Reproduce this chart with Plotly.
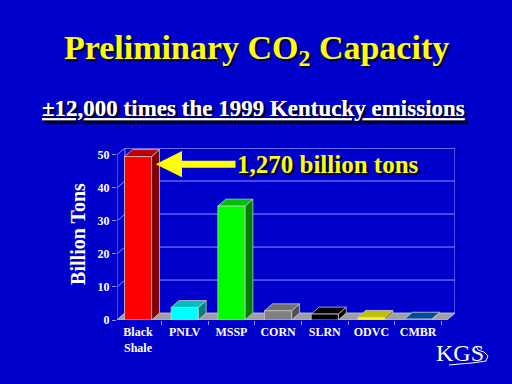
import plotly.graph_objects as go

# ---- data ----
categories = ["Black<br>Shale", "PNLV", "MSSP", "CORN", "SLRN", "ODVC", "CMBR"]
values = [49.5, 3.8, 34.5, 2.8, 1.8, 0.8, 0.25]
front_colors = ["#FF0000", "#00FFFF", "#00FF00", "#808080", "#000000", "#FFFF00", "#0050A0"]
side_colors = ["#800000", "#008080", "#008000", "#505050", "#000000", "#808000", "#003366"]
top_colors = ["#C00000", "#00C0C0", "#00C000", "#707070", "#000000", "#C0C000", "#004C99"]
y_ticks = [0, 10, 20, 30, 40, 50]

BG = "#0000CC"
GRID = "#9090FF"
EDGE = "#C8C8C8"
FONT = "Liberation Serif"

n = len(categories)
xs = list(range(n))
x0, x1 = -0.45, 6.79      # axis range (front-left to back-right)
dx, dy = 0.17, 2.1        # depth offset in data units
ytop = 52.1
w = 0.58

# plot area in pixels
L, R, T, B = 117, 455, 148, 320
cx = (L + R) / 2

fig = go.Figure()

def poly(px, py, fill, line=EDGE, lw=0.8):
    fig.add_trace(go.Scatter(x=px + [px[0]], y=py + [py[0]], mode="lines", fill="toself",
                             fillcolor=fill, line=dict(color=line, width=lw),
                             hoverinfo="skip", showlegend=False))

def line(px, py, color=GRID, lw=1):
    fig.add_trace(go.Scatter(x=px, y=py, mode="lines", line=dict(color=color, width=lw),
                             hoverinfo="skip", showlegend=False))

# back wall frame and gridlines
bx0 = x0 + dx
line([bx0, bx0, x1, x1], [dy, ytop, ytop, dy])
for t in y_ticks[1:]:
    line([bx0, x1], [t + dy, t + dy])
# left wall diagonals
for t in y_ticks:
    line([x0, bx0], [t, t + dy])
# front axis line
line([x0, x0], [0, y_ticks[-1]])

# floor
poly([x0, x1 - dx, x1, bx0], [0, 0, dy, dy], "#A0A0A0", line="#C0C0C0", lw=1)

# 3D bars
for i, v in enumerate(values):
    l, r = xs[i] - w / 2, xs[i] + w / 2
    poly([r, r + dx, r + dx, r], [0, dy, v + dy, v], side_colors[i])
    poly([l, l + dx, r + dx, r], [v, v + dy, v + dy, v], top_colors[i])
    poly([l, r, r, l], [0, 0, v, v], front_colors[i])

fig.update_layout(
    width=512, height=384,
    paper_bgcolor=BG, plot_bgcolor=BG,
    margin=dict(l=L, r=512 - R, t=T, b=384 - B),
    showlegend=False,
    font=dict(family=FONT, color="white"),
    xaxis=dict(range=[x0, x1], tickvals=xs, ticktext=categories, ticks="",
               showgrid=False, zeroline=False, showline=False, fixedrange=True,
               ticklabelstandoff=3,
               tickfont=dict(size=12, family=FONT, color="white", weight="bold"),
               minor=dict(tickvals=[i + 0.5 for i in range(n)], ticks="outside",
                          ticklen=4, tickcolor=GRID, showgrid=False)),
    yaxis=dict(range=[0, ytop], tickvals=y_ticks, ticks="outside", ticklen=4,
               tickcolor=GRID, showgrid=False, zeroline=False, showline=False,
               fixedrange=True,
               tickfont=dict(size=12, family=FONT, color="white", weight="bold"),
               title=dict(text="Billion Tons", standoff=6,
                          font=dict(size=20, family=FONT, color="white", weight="bold"))),
)

shadow = "2px 2px 1px #000033"
fig.add_annotation(xref="paper", yref="paper", x=0.5, y=1, xanchor="center", yanchor="middle",
                   xshift=256 - cx, yshift=T - 50,
                   text="Preliminary CO<sub>2</sub> Capacity", showarrow=False,
                   font=dict(size=34, family=FONT, color="#FFFF00", weight="bold", shadow=shadow))
fig.add_annotation(xref="paper", yref="paper", x=0.5, y=1, xanchor="center", yanchor="middle",
                   xshift=253 - cx, yshift=T - 108, showarrow=False,
                   text="<u>±12,000 times the 1999 Kentucky emissions</u>",
                   font=dict(size=23, family=FONT, color="white", weight="bold", shadow=shadow))
fig.add_annotation(x=0.38, y=47.2, ax=4.07, ay=47.2, axref="x", ayref="y",
                   xref="x", yref="y", text="1,270 billion tons", showarrow=True,
                   arrowhead=2, arrowsize=0.75, arrowwidth=7, arrowcolor="#FFFF00",
                   font=dict(size=25, family=FONT, color="#FFFF00", weight="bold", shadow=shadow))
# KGS logo text
fig.add_annotation(xref="paper", yref="paper", x=1, y=0, xanchor="center", yanchor="middle",
                   xshift=460 - R, yshift=-(353 - B), showarrow=False, text="KGS",
                   font=dict(size=24, family=FONT, color="white"))

# rough Kentucky outline under logo (decoration, pixel-based)
def P(px, py):
    return (px - L) / (R - L), (B - py) / (B - T)

outline = [(449, 365), (460, 364), (472, 363), (486, 361), (488, 356), (484, 352),
           (478, 350), (476, 346)]
path = "M " + " L ".join("%.4f,%.4f" % P(a, b) for a, b in outline)
fig.add_shape(type="path", xref="paper", yref="paper", path=path,
              line=dict(color="white", width=1))

fig.write_html("out.html", post_script="document.body.style.margin='0px';",
               config={"displayModeBar": False})
